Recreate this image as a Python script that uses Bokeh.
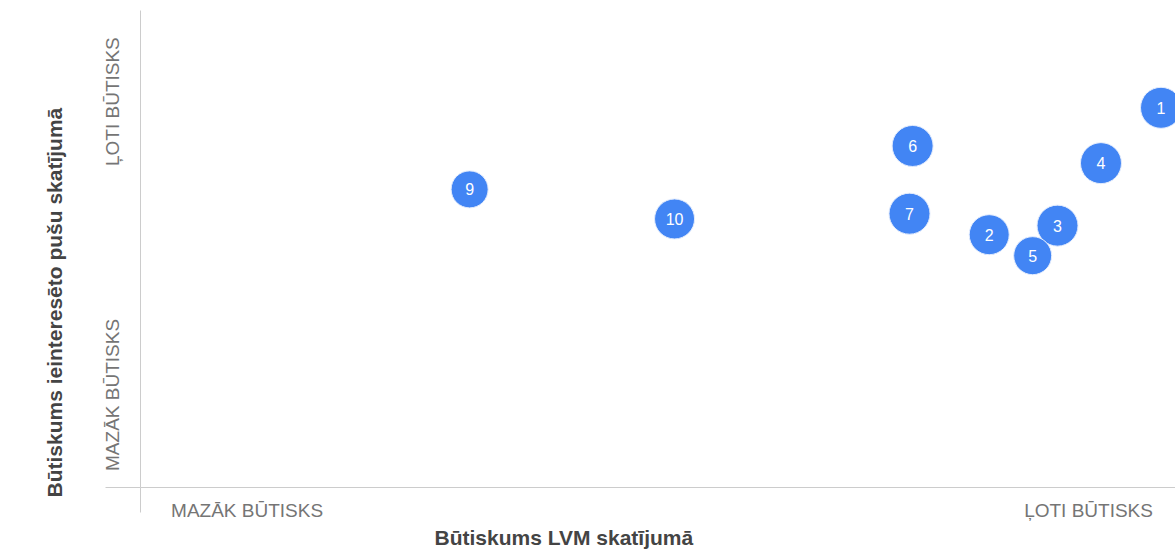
from bokeh.plotting import figure
from bokeh.models import ColumnDataSource, Range1d, FixedTicker, LinearInterpolator, Title
from bokeh.transform import transform
from bokeh.core.properties import value
from bokeh.embed import file_html
from bokeh.resources import INLINE

# ---- data ----
labels = ["1", "2", "3", "4", "5", "6", "7", "9", "10"]
lvm_importance = [9.86, 8.20, 8.86, 9.28, 8.62, 7.46, 7.43, 3.18, 5.16]
stakeholder_importance = [7.96, 5.30, 5.49, 6.80, 4.86, 7.16, 5.74, 6.25, 5.63]
bubble_weight = [10, 9, 10, 10, 7, 10, 10, 6, 9]

x_tick_pos = [1.03, 9.16]
x_tick_labels = ["MAZĀK BŪTISKS", "ĻOTI BŪTISKS"]
y_tick_pos = [1.94, 8.09]
y_tick_labels = ["MAZĀK BŪTISKS", "ĻOTI BŪTISKS"]
x_title = "Būtiskums LVM skatījumā"
y_title = "Būtiskums ieinteresēto pušu skatījumā"

FONT = "Liberation Sans"

src = ColumnDataSource(dict(x=lvm_importance, y=stakeholder_importance,
                            w=bubble_weight, label=labels))

p = figure(width=1175, height=549,
           x_range=Range1d(0, 10), y_range=Range1d(0, 10),
           output_backend="svg", toolbar_location=None,
           min_border_left=140, min_border_right=0,
           min_border_top=10, min_border_bottom=62,
           background_fill_color="white", border_fill_color="white")
p.outline_line_color = None
p.grid.visible = False

size_map = LinearInterpolator(x=[6, 10], y=[37, 41])
p.scatter(x="x", y="y", source=src, size=transform("w", size_map),
          fill_color="#4285f4", line_color="#e3ecfd", line_width=1)
p.text(x="x", y="y", text="label", source=src,
       text_align="center", text_baseline="middle",
       text_color="white", text_font=value(FONT), text_font_size="16px")

# x axis (line + tick labels)
xa = p.xaxis[0]
xa.ticker = FixedTicker(ticks=x_tick_pos, minor_ticks=[0])
xa.major_label_overrides = dict(zip(x_tick_pos, x_tick_labels))
xa.axis_line_color = "#cccccc"
xa.major_tick_in = 0
xa.major_tick_out = 0
xa.minor_tick_in = 0
xa.minor_tick_out = 25
xa.minor_tick_line_color = "#cccccc"
xa.major_label_text_font = FONT
xa.major_label_text_font_size = "19px"
xa.major_label_text_color = "#757575"
xa.major_label_standoff = -13

# y axis (line + tick labels)
ya = p.yaxis[0]
ya.ticker = FixedTicker(ticks=y_tick_pos, minor_ticks=[0])
ya.major_label_overrides = dict(zip(y_tick_pos, y_tick_labels))
ya.major_label_orientation = "vertical"
ya.axis_line_color = "#cccccc"
ya.major_tick_in = 0
ya.major_tick_out = 0
ya.minor_tick_in = 0
ya.minor_tick_out = 35
ya.minor_tick_line_color = "#cccccc"
ya.major_label_text_font = FONT
ya.major_label_text_font_size = "19px"
ya.major_label_text_color = "#757575"
ya.major_label_standoff = -18

# axis titles (the original chart area is larger than the visible crop, so the
# titles are not centred on the visible axes)
p.add_layout(Title(text=x_title, align="left", offset=294, standoff=0,
                   text_font=FONT, text_font_size="21px", text_font_style="bold",
                   text_color="#444444"), "below")
p.add_layout(Title(text=y_title, align="left", offset=-10, standoff=67,
                   text_font=FONT, text_font_size="21px", text_font_style="bold",
                   text_color="#444444"), "left")

open("out.html", "w").write(file_html(p, INLINE))
